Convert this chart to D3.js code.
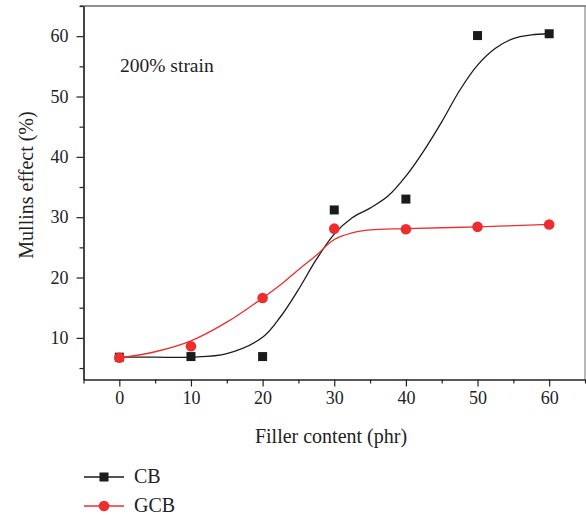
<!DOCTYPE html>
<html>
<head>
<meta charset="utf-8">
<title>Mullins effect</title>
<script src="https://cdn.jsdelivr.net/npm/d3@7"></script>
<style>
body { margin: 0; background: #fff; }
text { font-family: "Liberation Serif", "Times New Roman", serif; fill: #222; }
.axis path, .axis line { stroke: #222; stroke-width: 1.2px; }
</style>
</head>
<body>
<script>

var width = 586,
    height = 515;

// measured points
var fillerContent = [0, 10, 20, 30, 40, 50, 60];
var cbValues  = [6.8, 6.9, 6.9, 31.2, 33.0, 60.1, 60.4];
var gcbValues = [6.7, 8.6, 16.6, 28.1, 28.0, 28.4, 28.8];

// fitted curves
var cbFitX  = [0, 5, 10, 15, 20, 22.5, 25, 27.5, 30, 32.5, 35, 37.5, 40, 42.5, 45, 47.5, 50, 52.5, 55, 57.5, 60];
var cbFitY  = [6.8, 6.8, 6.8, 7.4, 10.1, 13.5, 18.0, 23.0, 27.2, 29.9, 31.5, 33.5, 36.8, 41.0, 45.8, 51.0, 55.2, 58.0, 59.6, 60.2, 60.4];
var gcbFitX = [0, 5, 10, 15, 20, 22.5, 25, 27.5, 30, 32.5, 35, 40, 50, 60];
var gcbFitY = [6.7, 7.7, 9.5, 12.6, 16.6, 18.8, 21.3, 23.7, 26.3, 27.4, 27.9, 28.1, 28.4, 28.8];

var xMajor = [0, 10, 20, 30, 40, 50, 60],
    xMinor = [-5, 5, 15, 25, 35, 45, 55, 65],
    yMajor = [10, 20, 30, 40, 50, 60],
    yMinor = [5, 15, 25, 35, 45, 55, 65];

var seriesNames = ["CB", "GCB"],
    seriesColors = ["#1b1b1b", "#ee2d2d"];

var svg = d3.select("body").append("svg").attr("width", width).attr("height", height);

var x = d3.scaleLinear().domain([-5, 65]).range([83.5, 585]);
var y = d3.scaleLinear().domain([3.1, 65]).range([379.5, 6]);

// frame (top + right)
svg.append("line").attr("x1", 80).attr("x2", 586).attr("y1", y(65)).attr("y2", y(65))
  .attr("stroke", "#222").attr("stroke-width", 1.2);
svg.append("line").attr("x1", 585).attr("x2", 585).attr("y1", y(65)).attr("y2", y(3.1))
  .attr("stroke", "#888").attr("stroke-width", 1.2);

// x axis
svg.append("g").attr("class", "axis").attr("transform", "translate(0," + y(3.1) + ")")
  .call(d3.axisBottom(x).tickValues(xMinor).tickSize(4).tickFormat("").tickSizeOuter(0));
var gx = svg.append("g").attr("class", "axis").attr("transform", "translate(0," + y(3.1) + ")")
  .call(d3.axisBottom(x).tickValues(xMajor).tickSize(7).tickPadding(5).tickSizeOuter(0));
gx.selectAll("text").style("font-size", "18px").attr("fill", "#222");

// y axis
svg.append("g").attr("class", "axis").attr("transform", "translate(" + x(-5) + ",0)")
  .call(d3.axisLeft(y).tickValues(yMinor).tickSize(4).tickFormat("").tickSizeOuter(0));
var gy = svg.append("g").attr("class", "axis").attr("transform", "translate(" + x(-5) + ",0)")
  .call(d3.axisLeft(y).tickValues(yMajor).tickSize(7).tickPadding(8).tickSizeOuter(0));
gy.selectAll("text").style("font-size", "18px").attr("fill", "#222");

// axis titles
svg.append("text").attr("x", 331).attr("y", 443).attr("text-anchor", "middle")
  .style("font-size", "20px").text("Filler content (phr)");
svg.append("text").attr("transform", "translate(33,185) rotate(-90)").attr("text-anchor", "middle")
  .style("font-size", "20px").text("Mullins effect (%)");

svg.append("text").attr("x", 120).attr("y", 72).style("font-size", "19.5px").text("200% strain");

// fit curves
var line = d3.line()
  .x(function(d) { return x(d[0]); })
  .y(function(d) { return y(d[1]); })
  .curve(d3.curveCatmullRom.alpha(0.5));

svg.append("path").datum(d3.zip(cbFitX, cbFitY)).attr("d", line)
  .attr("fill", "none").attr("stroke", seriesColors[0]).attr("stroke-width", 1.3);
svg.append("path").datum(d3.zip(gcbFitX, gcbFitY)).attr("d", line)
  .attr("fill", "none").attr("stroke", seriesColors[1]).attr("stroke-width", 1.3);

// markers
var s = 9;
svg.append("g").selectAll("rect").data(d3.zip(fillerContent, cbValues)).enter().append("rect")
  .attr("x", function(d) { return x(d[0]) - s / 2; })
  .attr("y", function(d) { return y(d[1]) - s / 2; })
  .attr("width", s).attr("height", s)
  .attr("fill", seriesColors[0]);

svg.append("g").selectAll("circle").data(d3.zip(fillerContent, gcbValues)).enter().append("circle")
  .attr("cx", function(d) { return x(d[0]); })
  .attr("cy", function(d) { return y(d[1]); })
  .attr("r", 5.3)
  .attr("fill", seriesColors[1]);

// legend
var legend = svg.append("g").selectAll("g").data(seriesNames).enter().append("g")
  .attr("transform", function(d, i) { return "translate(84," + (477 + i * 29) + ")"; });

legend.append("line").attr("x1", 0).attr("x2", 40).attr("y1", 0).attr("y2", 0)
  .attr("stroke", function(d, i) { return seriesColors[i]; }).attr("stroke-width", 1.3);
legend.each(function(d, i) {
  var g = d3.select(this);
  if (i === 0) {
    g.append("rect").attr("x", 20 - s / 2).attr("y", -s / 2).attr("width", s).attr("height", s)
      .attr("fill", seriesColors[0]);
  } else {
    g.append("circle").attr("cx", 20).attr("cy", 0).attr("r", 5.3).attr("fill", seriesColors[1]);
  }
});
legend.append("text").attr("x", 50).attr("y", 5.5).style("font-size", "20px")
  .text(function(d) { return d; });

</script>
</body>
</html>
